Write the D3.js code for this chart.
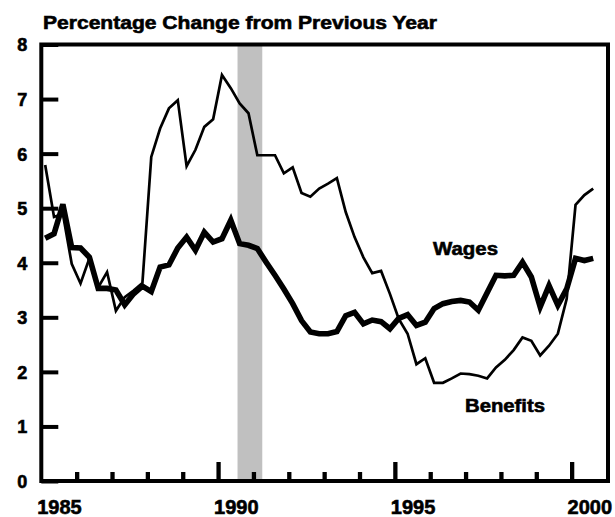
<!DOCTYPE html>
<html>
<head>
<meta charset="utf-8">
<script src="https://cdn.jsdelivr.net/npm/d3@7"></script>
<style>
  body { margin: 0; background: #fff; }
  text { font-family: "Liberation Sans", Arial, sans-serif; font-weight: bold; fill: #000; stroke: #000; stroke-width: 0.6px; }
</style>
</head>
<body>
<div id="chartid"></div>
<script>
"use strict"

// quarterly, 1985Q1 .. 2000Q3, percent change from same quarter a year earlier
var startYear = 1985;
var wages = [4.45,4.53,5.07,4.28, 4.27,4.10,3.53,3.53, 3.50,3.23,3.43,3.57,
  3.47,3.92,3.96,4.27, 4.47,4.23,4.56,4.38, 4.44,4.78,4.35,4.32,
  4.26,4.01,3.77,3.52, 3.25,2.94,2.73,2.70, 2.70,2.74,3.03,3.09,
  2.88,2.95,2.92,2.79, 2.98,3.05,2.85,2.91, 3.16,3.25,3.29,3.31,
  3.28,3.13,3.45,3.77, 3.76,3.77,4.01,3.74, 3.19,3.58,3.22,3.52,
  4.08,4.04,4.08];
var benefits = [5.79,4.84,4.90,3.98, 3.62,4.08,3.55,3.83, 3.12,3.37,3.49,3.63,
  5.94,6.46,6.83,6.98, 5.77,6.07,6.49,6.63, 7.44,7.20,6.92,6.74,
  5.97,5.97,5.97,5.64, 5.75,5.28,5.21,5.36, 5.45,5.55,4.93,4.47,
  4.10,3.81,3.85,3.43, 2.97,2.70,2.14,2.25, 1.80,1.80,1.88,1.97,
  1.96,1.93,1.88,2.08, 2.22,2.40,2.63,2.57, 2.30,2.48,2.70,3.34,
  5.06,5.24,5.36];
var recession = [1990.55, 1991.25];
var yTicks = [0,1,2,3,4,5,6,7,8];
var minorYears = [1986,1987,1988,1989,1991,1992,1993,1994,1996,1997,1998,1999];
var majorYears = [1990,1995,2000];
var yearLabels = [1985,1990,1995,2000];

function quarterTime(i){
  return startYear + Math.floor(i / 4) + (i % 4) * 0.25 + 0.11;
}

function createChart(){
  var svg = d3.select("#chartid").append("svg")
    .attr("width", 615)
    .attr("height", 517);

  var left = 41.3, right = 607, top = 44.5, bottom = 481;

  var x = d3.scaleLinear().domain([1985, 2001]).range([left, right]);
  var y = d3.scaleLinear().domain([0, 8]).range([bottom, top]);

  // recession band
  svg.append("rect")
    .attr("x", x(recession[0]))
    .attr("y", top)
    .attr("width", x(recession[1]) - x(recession[0]))
    .attr("height", bottom - top)
    .attr("fill", "#c0c0c0");

  var line = d3.line()
    .x(function(d, i){ return x(quarterTime(i)); })
    .y(function(d){ return y(d); });

  svg.append("path")
    .datum(benefits)
    .attr("fill", "none")
    .attr("stroke", "#000")
    .attr("stroke-width", 2.7)
    .attr("d", line);

  svg.append("path")
    .datum(wages)
    .attr("fill", "none")
    .attr("stroke", "#000")
    .attr("stroke-width", 5.6)
    .attr("d", line);

  // y axis
  var yAxis = svg.append("g")
    .attr("transform", "translate(" + left + ",0)")
    .call(d3.axisLeft(y).tickValues(yTicks).tickSize(-17).tickPadding(14).tickFormat(d3.format("d")));
  yAxis.select(".domain").remove();
  yAxis.selectAll("line").attr("stroke", "#000").attr("stroke-width", 4);
  yAxis.selectAll("text").style("font-size", "18px").attr("dy", "0.36em");

  // x axis ticks
  var xMinor = svg.append("g")
    .attr("transform", "translate(0," + bottom + ")")
    .call(d3.axisBottom(x).tickValues(minorYears).tickSize(-9).tickFormat(""));
  xMinor.select(".domain").remove();
  xMinor.selectAll("line").attr("stroke", "#000").attr("stroke-width", 4.3);

  var xMajor = svg.append("g")
    .attr("transform", "translate(0," + bottom + ")")
    .call(d3.axisBottom(x).tickValues(majorYears).tickSize(-19).tickFormat(""));
  xMajor.select(".domain").remove();
  xMajor.selectAll("line").attr("stroke", "#000").attr("stroke-width", 4.3);

  // year labels sit in the middle of the year
  var xLab = svg.append("g")
    .attr("transform", "translate(" + x(1985.5) + "," + bottom + ")")
    .call(d3.axisBottom(d3.scaleLinear().domain([1985, 2001]).range([0, right - left]))
      .tickValues(yearLabels).tickSize(0).tickPadding(19).tickFormat(d3.format("d")));
  xLab.select(".domain").remove();
  xLab.selectAll("text").style("font-size", "20px");

  // frame
  svg.append("rect")
    .attr("x", left)
    .attr("y", top)
    .attr("width", right + 1 - left)
    .attr("height", bottom - top)
    .attr("fill", "none")
    .attr("stroke", "#000")
    .attr("stroke-width", 4);

  svg.append("text")
    .attr("x", 43)
    .attr("y", 28.5)
    .attr("textLength", 394)
    .attr("lengthAdjust", "spacingAndGlyphs")
    .style("font-size", "19px")
    .text("Percentage Change from Previous Year");

  svg.append("text")
    .attr("x", 433)
    .attr("y", 255)
    .attr("textLength", 65)
    .attr("lengthAdjust", "spacingAndGlyphs")
    .style("font-size", "19px")
    .text("Wages");

  svg.append("text")
    .attr("x", 465)
    .attr("y", 411.5)
    .attr("textLength", 80)
    .attr("lengthAdjust", "spacingAndGlyphs")
    .style("font-size", "19px")
    .text("Benefits");
}

createChart();
</script>
</body>
</html>
